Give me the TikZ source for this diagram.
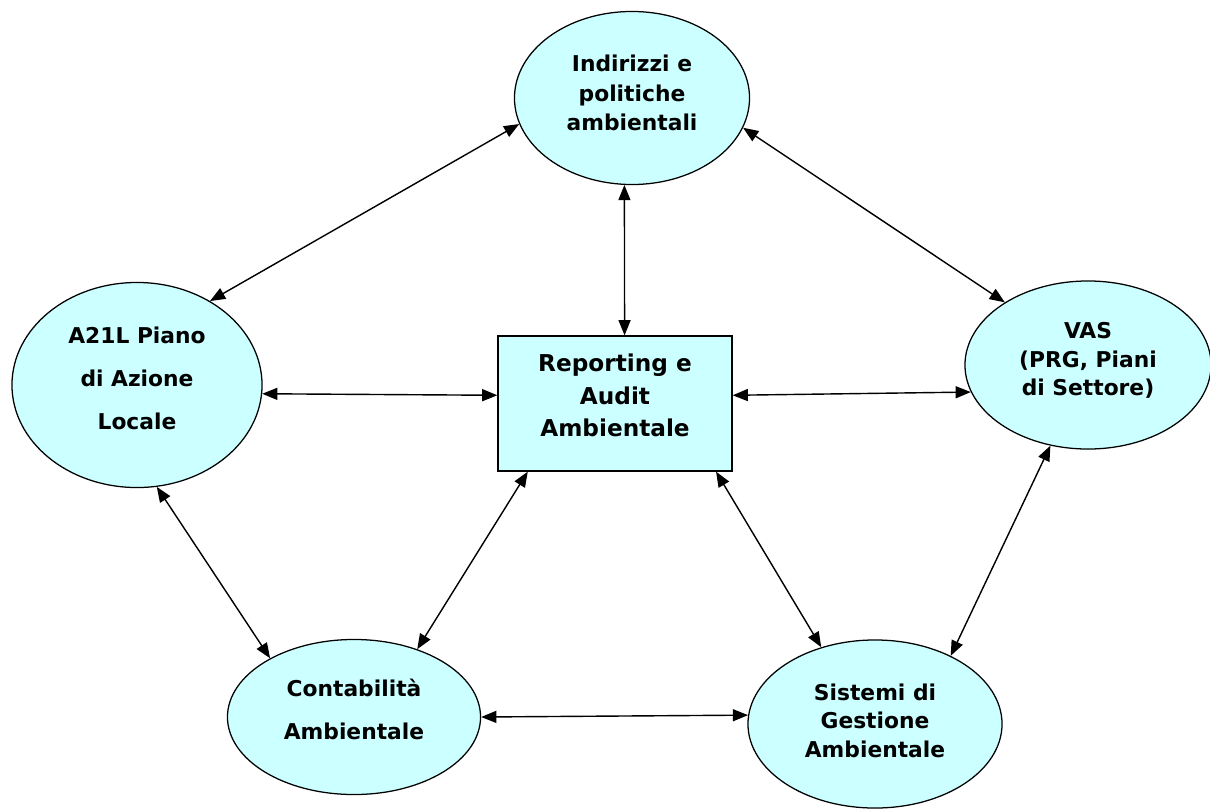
\documentclass[tikz,border=0pt]{standalone}
\usepackage{fontspec}
\setmainfont{DejaVu Sans}
\usepackage{xcolor}
\usetikzlibrary{shapes,arrows.meta}
\definecolor{paleblue}{HTML}{CCFFFF}
\tikzset{bubble/.style={ellipse,draw=black,fill=paleblue,line width=0.9pt,
   inner sep=0pt,align=center,font=\fontsize{15.5}{20.5}\selectfont\bfseries},
 wide/.style={font=\fontsize{15.5}{30.5}\selectfont\bfseries},
 box/.style={rectangle,draw=black,fill=paleblue,line width=0.9pt,
   inner sep=0pt,align=center,font=\fontsize{16.5}{23}\selectfont\bfseries},
 link/.style={{Triangle[length=0.38cm,width=0.3cm]}-{Triangle[length=0.38cm,width=0.3cm]},
   line width=1pt},
 }

\begin{document}
\begin{tikzpicture}[x=0.025cm,y=-0.025cm]
        \useasboundingbox (0,0) rectangle (1210,810);
        \node[bubble,font=\fontsize{15.5}{21}\selectfont\bfseries,minimum width=5.875cm,minimum height=4.325cm] (ind) at (632,98) {Indirizzi e\\politiche\\ambientali\\[-13.8pt]};
        \node[bubble,wide,minimum width=6.25cm,minimum height=5.125cm] (a21) at (137,385) {A21L Piano\\di Azione\\Locale\\[-20.5pt]};
        \node[bubble,minimum width=6.15cm,minimum height=4.2cm] (vas) at (1088,365) {VAS\\(PRG, Piani\\di Settore)\\[-12pt]};
        \node[box,minimum width=5.85cm,minimum height=3.375cm] (rep) at (615,403.5) {Reporting e\\Audit\\Ambientale\\[-11.6pt]};
        \node[bubble,wide,minimum width=6.325cm,minimum height=3.875cm] (cont) at (354,717) {Contabilità\\Ambientale\\[-19pt]};
        \node[bubble,minimum width=6.35cm,minimum height=4.2cm] (sis) at (875,724) {Sistemi di\\Gestione\\Ambientale\\[-15.7pt]};
        \draw[link] (ind.193) -- (a21.49);
        \draw[link] (ind.345) -- (vas.143);
        \draw[link] (ind.265) -- (rep.82);
        \draw[link] (a21.356) -- (rep.176);
        \draw[link] (rep.4) -- (vas.193);
        \draw[link] (a21.281) -- (cont.145);
        \draw[link] (rep.218) -- (cont.47);
        \draw[link] (rep.326) -- (sis.125);
        \draw[link] (vas.245) -- (sis.42);
        \draw[link] (cont.0) -- (sis.176);
    \end{tikzpicture}
\end{document}
